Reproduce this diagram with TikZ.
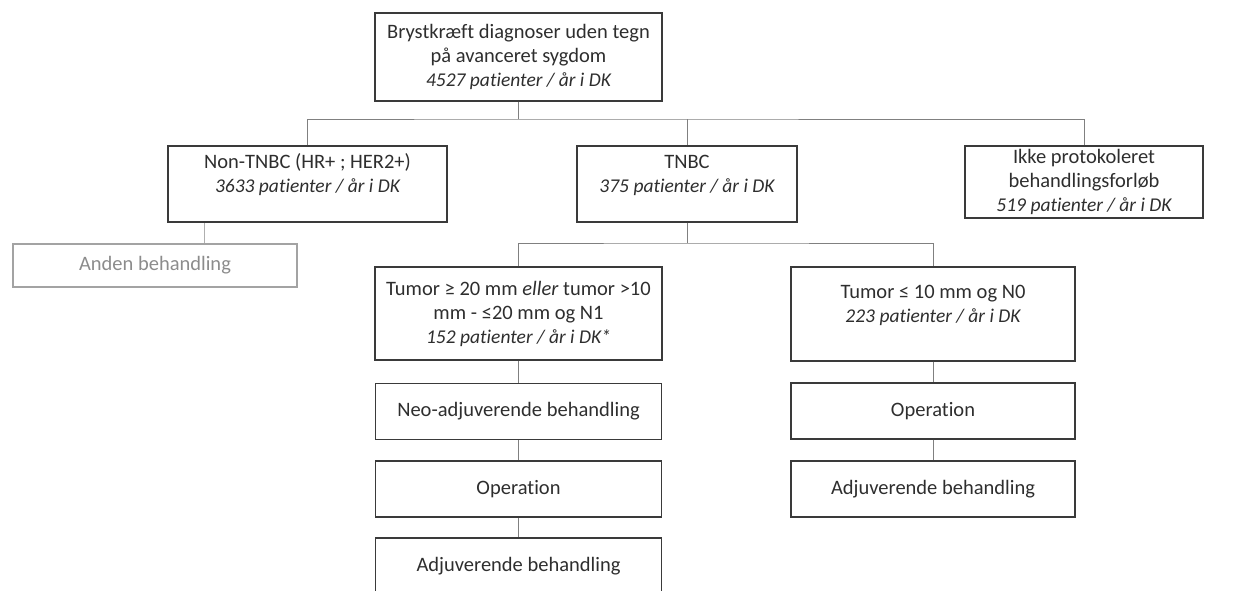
\documentclass[tikz,border=0pt]{standalone}
\usepackage{fontspec}
\setmainfont{Carlito}[Ligatures=NoCommon]
\definecolor{boxline}{HTML}{3A3A3A}
\definecolor{linkgray}{HTML}{808080}
\definecolor{txtgray}{HTML}{2E2E2E}
\definecolor{fadegray}{HTML}{8C8C8C}
\newcommand{\pat}[1]{{\fontsize{19.5}{23}\selectfont\itshape #1}}

\begin{document}
\begin{tikzpicture}[x=1pt,y=-1pt,
  box/.style={draw=boxline,line width=1.2pt,text=txtgray,align=center,inner sep=0pt,
    font=\fontsize{20.5}{24}\selectfont},
  fadebox/.style={box,draw=fadegray!80,text=fadegray},
  link/.style={draw=linkgray,line width=1pt},
  fadelink/.style={draw=fadegray!70,line width=1pt}]
  \useasboundingbox (0,0) rectangle (1236,590);
  \node[box,minimum width=287pt,minimum height=88pt] (top) at (518.5,57)
    {Brystkræft diagnoser uden tegn\\på avanceret sygdom\\\pat{4527 patienter / år i DK}};
  \node[box,minimum width=279pt,minimum height=76pt] (nontnbc) at (307.5,184)
    {Non-TNBC (HR+ ; HER2+)\\\pat{3633 patienter / år i DK}\\[-10pt]\strut};
  \node[box,minimum width=220pt,minimum height=76pt] (tnbc) at (687,184)
    {TNBC\\\pat{375 patienter / år i DK}\\[-10pt]\strut};
  \node[box,minimum width=238pt,minimum height=72pt] (ikke) at (1084,182)
    {Ikke protokoleret\\behandlingsforløb\\\pat{519 patienter / år i DK}};
  \node[fadebox,minimum width=284pt,minimum height=43pt] (anden) at (155,265.5)
    {Anden behandling};
  \node[box,minimum width=287pt,minimum height=93pt] (big) at (518.5,313.5)
    {Tumor ≥ 20 mm \textit{eller} tumor >10\\mm - ≤20 mm og N1\\\pat{152 patienter / år i DK*}};
  \node[box,minimum width=284pt,minimum height=94pt] (small) at (933,314)
    {Tumor ≤ 10 mm og N0\\\pat{223 patienter / år i DK}\\[-10pt]\strut};
  \node[box,minimum width=286pt,minimum height=56pt] (neo) at (518.5,411.5)
    {Neo-adjuverende behandling};
  \node[box,minimum width=286pt,minimum height=56pt] (opleft) at (518.5,489)
    {Operation};
  \node[box,minimum width=286pt,minimum height=56pt] (adjleft) at (518.5,566)
    {Adjuverende behandling};
  \node[box,minimum width=284pt,minimum height=56pt] (opright) at (933,411)
    {Operation};
  \node[box,minimum width=284pt,minimum height=56pt] (adjright) at (933,489)
    {Adjuverende behandling};

  \coordinate (split1) at (518.5,119);
  \coordinate (split2) at (687,243);
  \coordinate (andentop) at ([xshift=49pt]anden.north);
  \draw[link] (top) -- (split1);
  \draw[link] (nontnbc.north) |- (split1) -| (ikke.north);
  \draw[link] (tnbc.north |- split1) -- (tnbc);
  \draw[fadelink] (andentop) -- (andentop |- nontnbc.south);
  \draw[link] (tnbc) -- (split2);
  \draw[link] (big.north) |- (split2) -| (small.north);
  \draw[link] (big) -- (neo);
  \draw[link] (neo) -- (opleft);
  \draw[link] (opleft) -- (adjleft);
  \draw[link] (small) -- (opright);
  \draw[link] (opright) -- (adjright);
\end{tikzpicture}
\end{document}
